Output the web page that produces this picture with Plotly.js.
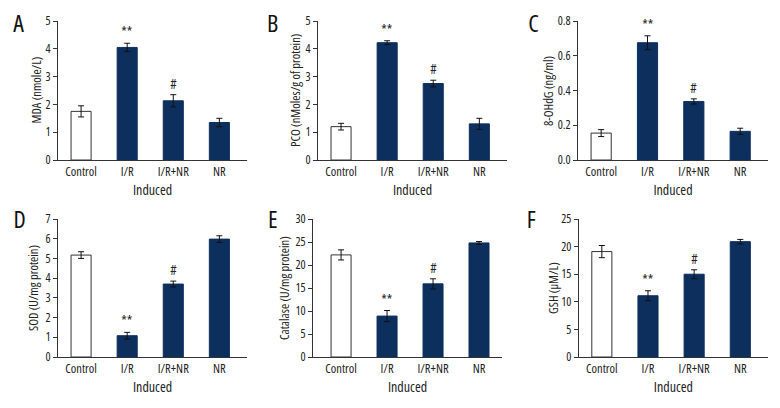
<!DOCTYPE html>
<html>
<head>
<meta charset="utf-8">
<script src="https://cdn.plot.ly/plotly-3.0.1.min.js"></script>
<style>
html,body{margin:0;padding:0;background:#fff;}
#chart{width:780px;height:408px;}
#chart text{font-stretch:condensed;}
</style>
</head>
<body>
<div id="chart"></div>
<script>
const categories = ["Control", "I/R", "I/R+NR", "NR"];
const panelLetters = ["A", "B", "C", "D", "E", "F"];
const yTitles = ["MDA (nmole/L)", "PCO (nMoles/g of protein)", "8-OHdG (ng/ml)", "SOD (U/mg protein)", "Catalase (U/mg protein)", "GSH (μM/L)"];
const xTitle = "Induced";

const mdaValues = [1.75, 4.05, 2.13, 1.35];
const mdaErrors = [0.2, 0.15, 0.22, 0.15];
const pcoValues = [1.2, 4.22, 2.75, 1.3];
const pcoErrors = [0.12, 0.07, 0.12, 0.2];
const ohdgValues = [0.155, 0.675, 0.337, 0.165];
const ohdgErrors = [0.02, 0.04, 0.015, 0.018];
const sodValues = [5.17, 1.08, 3.7, 5.98];
const sodErrors = [0.17, 0.17, 0.15, 0.17];
const catalaseValues = [22.2, 8.9, 15.9, 24.8];
const catalaseErrors = [1.1, 1.2, 1.1, 0.3];
const gshValues = [19.1, 11.1, 15.0, 20.9];
const gshErrors = [1.1, 0.9, 0.8, 0.4];

const sigLabels = ["", "**", "#", ""];

const yMax = [5, 5, 0.8, 7, 30, 25];
const yDtick = [1, 1, 0.2, 1, 5, 5];
const yTickFormat = ["", "", ".1f", "", "", ""];

const panelValues = [mdaValues, pcoValues, ohdgValues, sodValues, catalaseValues, gshValues];
const panelErrors = [mdaErrors, pcoErrors, ohdgErrors, sodErrors, catalaseErrors, gshErrors];

const FONT = "'Open Sans', 'Roboto Condensed', sans-serif";
const NAVY = "#0c2f5d";

// layout geometry (paper fractions)
const xDomains = [[0.0744, 0.3167], [0.4077, 0.65], [0.741, 0.9846], [0.0744, 0.3167], [0.4013, 0.6436], [0.742, 0.9846]];
const yDomains = [[0.6078, 0.9485], [0.6078, 0.9485], [0.6078, 0.9485], [0.125, 0.4632], [0.125, 0.4632], [0.125, 0.4632]];
const xRanges = [[-0.5, 3.6], [-0.5, 3.6], [-0.5, 3.6], [-0.5, 3.6], [-0.61, 3.5], [-0.5, 3.6]];
const letterPos = [[19, 22], [273, 22], [533, 22], [19, 218], [272, 218], [531, 218]];
const yTitlePos = [37, 296, 549, 33, 284, 553];

const traces = [];
const annotations = [];
const layout = {
  width: 780, height: 408,
  margin: {l: 0, r: 0, t: 0, b: 0},
  paper_bgcolor: "#fff", plot_bgcolor: "#fff",
  showlegend: false,
  font: {family: FONT, size: 12, color: "#222"}
};

for (let i = 0; i < 6; i++) {
  const sfx = i === 0 ? "" : String(i + 1);
  const xa = "x" + sfx, ya = "y" + sfx;
  traces.push({
    type: "bar",
    x: categories,
    y: panelValues[i],
    xaxis: xa, yaxis: ya,
    width: 0.435,
    marker: {
      color: categories.map((c, k) => k === 0 ? "#ffffff" : NAVY),
      line: {color: categories.map((c, k) => k === 0 ? "#333" : NAVY), width: 1}
    },
    error_y: {type: "data", array: panelErrors[i], visible: true, color: "#111", thickness: 1, width: 3},
    hoverinfo: "skip"
  });
  layout["xaxis" + sfx] = {
    domain: xDomains[i], anchor: ya,
    type: "category",
    range: xRanges[i],
    showline: true, linecolor: "#333", linewidth: 1,
    ticks: "", showgrid: false, zeroline: false,
    tickfont: {family: FONT, size: 12.5, color: "#222"},
    title: {text: xTitle, font: {family: FONT, size: 14, color: "#222"}, standoff: 4},
    fixedrange: true
  };
  layout["yaxis" + sfx] = {
    domain: yDomains[i], anchor: xa,
    range: [0, yMax[i]],
    dtick: yDtick[i], tick0: 0,
    tickformat: yTickFormat[i],
    showline: true, linecolor: "#333", linewidth: 1,
    ticks: "outside", ticklen: 4, tickcolor: "#333",
    showgrid: false, zeroline: false,
    tickfont: {family: FONT, size: 12, color: "#222"},
    fixedrange: true
  };
  annotations.push({
    xref: "paper", yref: "paper",
    x: yTitlePos[i] / 780,
    y: (yDomains[i][0] + yDomains[i][1]) / 2,
    text: yTitles[i], textangle: -90, showarrow: false,
    font: {family: FONT, size: 12.5, color: "#222"},
    xanchor: "center", yanchor: "middle"
  });
  annotations.push({
    xref: "paper", yref: "paper",
    x: letterPos[i][0] / 780, y: 1 - letterPos[i][1] / 408,
    text: panelLetters[i], showarrow: false,
    font: {family: FONT, size: 24, color: "#111"},
    xanchor: "center", yanchor: "middle"
  });
  for (let k = 0; k < categories.length; k++) {
    if (!sigLabels[k]) continue;
    annotations.push({
      xref: xa, yref: ya,
      x: categories[k], y: panelValues[i][k] + panelErrors[i][k],
      text: sigLabels[k], showarrow: false,
      font: {family: FONT, size: 14, color: "#222"},
      xanchor: "center", yanchor: "bottom", yshift: 0
    });
  }
}
layout.annotations = annotations;

Plotly.newPlot("chart", traces, layout, {displayModeBar: false, staticPlot: true});
</script>
</body>
</html>
